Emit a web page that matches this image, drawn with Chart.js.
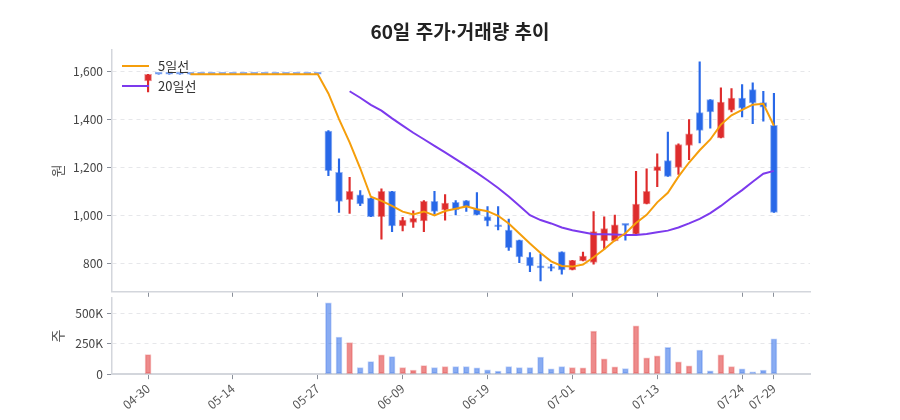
<!DOCTYPE html>
<html lang="ko">
<head>
<meta charset="utf-8">
<script src="https://cdn.jsdelivr.net/npm/chart.js@4.4.1/dist/chart.umd.min.js"></script>
<style>
  body { margin: 0; background: #fff; }
  #wrap { position: relative; width: 900px; height: 420px; font-family: 'Noto Sans CJK KR', 'Noto Sans', sans-serif; }
  #title { position: absolute; left: 20px; top: 19px; width: 880px; line-height: 24px; text-align: center; font-size: 19px; font-weight: bold; color: #222; }
  #priceChart { position: absolute; left: 0; top: 0; }
  #volChart { position: absolute; left: 0; top: 287px; }
</style>
</head>
<body>
<div id="wrap">
  <canvas id="priceChart" width="900" height="303"></canvas>
  <canvas id="volChart" width="900" height="133"></canvas>
  <div id="title">60일 주가·거래량 추이</div>
</div>
<script>
// 거래일 (60일)
const dates = ['04-30','05-03','05-04','05-06','05-07','05-10','05-11','05-13','05-14','05-17',
  '05-18','05-20','05-21','05-24','05-25','05-26','05-27','05-28','05-31','06-01',
  '06-02','06-03','06-04','06-08','06-09','06-10','06-11','06-13','06-14','06-15',
  '06-16','06-17','06-19','06-21','06-22','06-23','06-24','06-25','06-28','06-30',
  '07-01','07-02','07-04','07-05','07-06','07-07','07-08','07-11','07-13','07-14',
  '07-15','07-16','07-18','07-19','07-20','07-22','07-24','07-25','07-28','07-29'];
const tickIdx = [0, 8, 16, 24, 32, 40, 48, 56, 59];
const priceTicks = [800, 1000, 1200, 1400, 1600];
const volTicks = [0, 250000, 500000];

const open = [1562,1590,1590,1590,1590,1590,1590,1590,1590,1590,
  1590,1590,1590,1590,1590,1590,1590,1353,1181,1067,
  1087,1074,996,1102,958,972,979,1060,1024,1056,
  1063,1028,997,958,940,899,828,785,782,850,
  774,812,805,895,895,962,923,1049,1188,1230,
  1202,1293,1430,1484,1324,1440,1491,1526,1472,1377];
const high = [1590,1590,1590,1590,1590,1590,1590,1590,1590,1590,
  1590,1590,1590,1590,1590,1590,1590,1355,1237,1160,
  1105,1074,1112,1102,993,1021,1063,1102,1088,1063,
  1063,1097,1038,1038,986,899,846,840,798,850,
  814,849,1017,996,1003,962,1185,1196,1258,1349,
  1300,1401,1642,1484,1533,1530,1547,1554,1519,1510];
const low = [1516,1590,1590,1590,1590,1590,1590,1590,1590,1590,
  1590,1590,1590,1590,1590,1590,1590,1167,1014,1010,
  1042,996,902,934,937,951,934,1007,982,1004,
  1018,1003,958,941,856,804,767,728,770,756,
  774,812,798,861,895,898,923,1049,1121,1164,
  1172,1234,1304,1365,1324,1433,1412,1384,1394,1014];
const close = [1590,1590,1590,1590,1590,1590,1590,1590,1590,1590,
  1590,1590,1590,1590,1590,1590,1590,1188,1060,1102,
  1049,996,1102,958,982,989,1060,1018,1053,1024,
  1038,1003,979,954,867,828,791,783,780,774,
  814,832,934,947,962,960,1049,1102,1205,1164,
  1297,1342,1356,1433,1474,1491,1449,1470,1453,1014];
const volume = [161000,0,0,0,0,0,0,0,0,0,
  0,0,0,0,0,0,0,590000,307000,262000,
  55000,104000,159000,145000,55000,33000,71000,55000,63000,63000,
  63000,52000,36000,26000,63000,55000,55000,142000,44000,63000,
  55000,52000,356000,126000,60000,47000,399000,134000,151000,221000,
  102000,69000,200000,28000,159000,63000,44000,20000,33000,293000];
const ma5 = [null,null,null,null,1590,1590,1590,1590,1590,1590,
  1590,1590,1590,1590,1590,1590,1590,1510,1403,1306,
  1198,1079,1062,1041,1017,1005,1018,1001,1020,1029,
  1039,1027,1019,1000,968,926,884,845,810,791,
  788,797,827,860,898,927,970,1004,1056,1096,
  1163,1222,1273,1318,1380,1419,1441,1463,1467,1375];
const ma20 = [null,null,null,null,null,null,null,null,null,null,
  null,null,null,null,null,null,null,null,null,1519,
  1492,1462,1438,1406,1376,1346,1319,1291,1264,1236,
  1208,1179,1148,1116,1080,1042,1002,982,968,951,
  940,931,923,923,922,920,920,924,931,938,
  951,968,987,1011,1041,1075,1107,1142,1175,1187];

const FONT = "'Noto Sans CJK KR', 'Noto Sans', sans-serif";
const RED = 'rgb(222,44,44)';
const BLUE = 'rgb(40,104,232)';
const ORANGE = '#f59e0b';
const PURPLE = '#7c3aed';

const isUp = dates.map((d, i) => close[i] > open[i]);
const candleColor = dates.map((d, i) => isUp[i] ? RED : BLUE);
const candleEdge = dates.map((d, i) => isUp[i] ? 'rgba(222,44,44,0.5)' : 'rgba(40,104,232,0.5)');
const volColor = dates.map((d, i) => isUp[i] ? 'rgba(222,44,44,0.55)' : 'rgba(40,104,232,0.55)');
const volEdge = dates.map((d, i) => isUp[i] ? 'rgba(222,44,44,0.3)' : 'rgba(40,104,232,0.3)');

function xAxis(showLabels) {
  return {
    type: 'linear',
    min: -3.4,
    max: 62.4,
    offset: false,
    afterBuildTicks: (s) => { s.ticks = tickIdx.map(v => ({ value: v })); },
    ticks: {
      display: showLabels,
      autoSkip: false,
      minRotation: 40,
      maxRotation: 40,
      padding: 2,
      color: '#555',
      font: { family: FONT, size: 12 },
      callback: (v) => dates[v]
    },
    grid: { offset: false, drawOnChartArea: false, drawTicks: true, tickLength: 5, tickColor: '#8a909a' },
    border: { color: '#d3d6dc', width: showLabels ? 2 : 1.5 }
  };
}

function yAxis(title, range, tickValues, format) {
  return {
    min: range[0],
    max: range[1],
    afterFit: (s) => { s.width = 67; },
    afterBuildTicks: (s) => { s.ticks = tickValues.map(v => ({ value: v })); },
    title: { display: true, text: title, color: '#555', font: { family: FONT, size: 14 }, padding: 4 },
    ticks: { color: '#444', padding: 4, font: { family: FONT, size: 12 }, callback: format },
    grid: { color: '#e6e7ea', tickColor: '#8a909a', tickLength: 5 },
    border: { color: '#d3d6dc', width: 1.5, dash: [4, 4] }
  };
}

// 이동평균선 범례 (차트 안 좌상단)
const maLegend = {
  id: 'maLegend',
  afterDatasetsDraw(chart) {
    const ctx = chart.ctx;
    const left = chart.chartArea.left;
    const top = chart.chartArea.top;
    const items = [['5일선', ORANGE, top + 16], ['20일선', PURPLE, top + 36]];
    ctx.save();
    ctx.font = '13px ' + FONT;
    ctx.textBaseline = 'middle';
    items.forEach(([text, color, y]) => {
      ctx.strokeStyle = color;
      ctx.lineWidth = 2;
      ctx.beginPath();
      ctx.moveTo(left + 10, y);
      ctx.lineTo(left + 37, y);
      ctx.stroke();
      ctx.fillStyle = '#333';
      ctx.fillText(text, left + 46, y);
    });
    ctx.restore();
  }
};

new Chart(document.getElementById('priceChart'), {
  data: {
    datasets: [
      {
        type: 'line',
        label: '5일선',
        data: dates.map((d, i) => ({ x: i, y: ma5[i] })),
        borderColor: ORANGE,
        borderWidth: 2,
        pointRadius: 0,
        tension: 0,
        order: 0
      },
      {
        type: 'line',
        label: '20일선',
        data: dates.map((d, i) => ({ x: i, y: ma20[i] })),
        borderColor: PURPLE,
        borderWidth: 2,
        pointRadius: 0,
        tension: 0,
        order: 1
      },
      {
        type: 'bar',
        label: 'body',
        data: dates.map((d, i) => ({ x: i, y: [open[i], close[i]] })),
        backgroundColor: candleColor,
        borderColor: candleEdge,
        borderWidth: 1,
        borderSkipped: false,
        barThickness: 7,
        minBarLength: 2,
        grouped: false,
        order: 2
      },
      {
        type: 'bar',
        label: 'wick',
        data: dates.map((d, i) => ({ x: i, y: [low[i], high[i]] })),
        backgroundColor: candleColor,
        barThickness: 1.5,
        grouped: false,
        order: 3
      }
    ]
  },
  options: {
    responsive: false,
    animation: false,
    layout: { padding: { left: 45, right: 90, top: 50, bottom: 0 } },
    plugins: { legend: { display: false }, tooltip: { enabled: false } },
    scales: {
      x: xAxis(false),
      y: yAxis('원', [683, 1691], priceTicks, (v) => v.toLocaleString('en-US'))
    }
  },
  plugins: [maLegend]
});

new Chart(document.getElementById('volChart'), {
  type: 'bar',
  data: {
    datasets: [{
      label: '거래량',
      data: dates.map((d, i) => ({ x: i, y: volume[i] })),
      backgroundColor: volColor,
      borderColor: volEdge,
      borderWidth: 1,
      borderSkipped: false,
      barThickness: 6
    }]
  },
  options: {
    responsive: false,
    animation: false,
    layout: { padding: { left: 45, right: 90, top: 1, bottom: 6 } },
    plugins: { legend: { display: false }, tooltip: { enabled: false } },
    scales: {
      x: xAxis(true),
      y: yAxis('주', [0, 628000], volTicks, (v) => v === 0 ? '0' : (v / 1000) + 'K')
    }
  }
});
</script>
</body>
</html>
